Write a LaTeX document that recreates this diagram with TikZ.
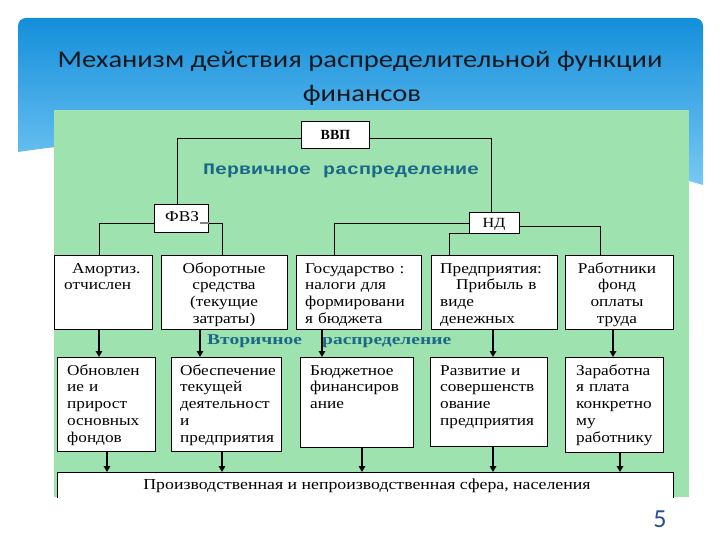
\documentclass[tikz,border=0pt]{standalone}
\usepackage{fontspec}
\setmainfont{Liberation Serif}
\newfontfamily\titlefont[FakeStretch=1.19]{Carlito}
\newfontfamily\numfont{Carlito}
\newfontfamily\boxfont[FakeStretch=1.15]{Liberation Serif}
\newfontfamily\bottomfont[FakeStretch=1.17]{Liberation Serif}
\newfontfamily\wideserif[FakeStretch=1.3]{Liberation Serif}
\newfontfamily\widemono[FakeStretch=1.25]{Liberation Mono}
\usetikzlibrary{arrows.meta}
\definecolor{bgreen}{RGB}{158,226,175}
\definecolor{blueA}{RGB}{20,143,218}
\definecolor{blueB}{RGB}{120,200,244}
\definecolor{tealtxt}{RGB}{28,104,136}
\definecolor{numblue}{RGB}{38,78,148}
\definecolor{titlecol}{RGB}{20,24,30}
\hyphenpenalty=10000
\begin{document}
\begin{tikzpicture}[x=1pt,y=-1pt,
  box/.style={draw=black, fill=white, line width=0.9pt, inner sep=0pt, anchor=north west},
  txt/.style={inner sep=0pt, font=\boxfont\fontsize{15}{16.8}\selectfont},
  lft/.style={txt, anchor=base west, text width=130pt, align=left},
  ctr/.style={txt, anchor=base, text width=120pt, align=center},
  conn/.style={line width=0.9pt},
  arr/.style={line width=1.8pt, -{Triangle[length=6pt,width=6.5pt]}},
  lbl/.style={inner sep=0pt, anchor=base}
]
\useasboundingbox (0,0) rectangle (720,540);
\fill[white] (0,0) rectangle (720,540);
% blue header
\shade[top color=blueA, bottom color=blueB]
  (18,152) {[rounded corners=8pt] -- (18,18) -- (703,18)} -- (703,185)
  .. controls (500,125) and (200,125) .. (18,152) -- cycle;
% title
\node[lbl, font=\titlefont\fontsize{24}{28}\selectfont, text=titlecol] (title1) at (360,68) {Механизм действия распределительной функции};
\node[lbl, font=\titlefont\fontsize{24}{28}\selectfont, text=titlecol] (title2) at (362,102) {финансов};
% green panel
\fill[bgreen] (54,110) rectangle (689,497);

% top boxes
\node[box, minimum width=68pt, minimum height=27pt] (vvp) at (301,121) {};
\node[lbl, font=\bfseries\fontsize{14}{16}\selectfont] (vvpt) at (vvp.center) [yshift=-5pt] {ВВП};
\node[box, minimum width=54pt, minimum height=28pt] (fvz) at (154,204) {};
\node[lbl, font=\boxfont\fontsize{15}{16}\selectfont, anchor=base west] (fvzt) at (165,222) {ФВЗ};
\node[box, minimum width=50pt, minimum height=21pt] (nd) at (469,212) {};
\node[lbl, font=\boxfont\fontsize{14}{16}\selectfont] (ndt) at (494,228) {НД};

\node[lbl, font=\widemono\bfseries\fontsize{16}{18}\selectfont, text=tealtxt, anchor=base west] (perv) at (203,175) {Первичное распределение};

% row 1
\node[box, minimum width=98pt, minimum height=74pt] (a1) at (54,255) {};
\node[box, minimum width=126pt, minimum height=74pt] (a2) at (161,255) {};
\node[box, minimum width=125pt, minimum height=74pt] (a3) at (296,255) {};
\node[box, minimum width=126pt, minimum height=74pt] (a4) at (431,255) {};
\node[box, minimum width=108pt, minimum height=74pt] (a5) at (565,255) {};

\node[lft] (a1t) at (64,273) {\hspace*{8pt}Амортиз.\\отчислен};
\node[ctr] (a2t) at (224,273) {Оборотные\\средства\\(текущие\\затраты)};
\node[lft] (a3t) at (305,273) {Государство :\\налоги для\\формировани\\я бюджета};
\node[lft] (a4t) at (440,273) {Предприятия:\\\hspace*{16pt}Прибыль в\\виде\\денежных};
\node[ctr] (a5t) at (617,273) {Работники\\фонд\\оплаты\\труда};

% secondary label
\node[lbl, font=\wideserif\bfseries\fontsize{15}{17}\selectfont, text=tealtxt, anchor=base west] (vt1) at (207,344) {Вторичное};
\node[lbl, font=\wideserif\bfseries\fontsize{15}{17}\selectfont, text=tealtxt, anchor=base west] (vt2) at (322,344) {распределение};

% row 2
\node[box, minimum width=98pt, minimum height=94pt] (b1) at (57,357) {};
\node[box, minimum width=110pt, minimum height=94pt] (b2) at (171,357) {};
\node[box, minimum width=113pt, minimum height=90pt] (b3) at (300,357) {};
\node[box, minimum width=117pt, minimum height=89pt] (b4) at (430,357) {};
\node[box, minimum width=98pt, minimum height=95pt] (b5) at (565,357) {};

\node[lft] (b1t) at (67,375) {Обновлен\\ие и\\прирост\\основных\\фондов};
\node[lft] (b2t) at (180,375) {Обеспечение\\текущей\\деятельност\\и\\предприятия};
\node[lft] (b3t) at (310,375) {Бюджетное\\финансиров\\ание};
\node[lft] (b4t) at (440,375) {Развитие и\\совершенств\\ование\\предприятия};
\node[lft] (b5t) at (576,375) {Заработна\\я плата\\конкретно\\му\\работнику};

% bottom box (clipped)
\begin{scope}
\clip (0,0) rectangle (720,497);
\node[box, minimum width=616pt, minimum height=45pt] (bot) at (57,472) {};
\end{scope}
\node[lbl, font=\bottomfont\fontsize{15.2}{16}\selectfont] (bott) at (367,489) {Производственная и непроизводственная сфера, населения};

% helper coordinates
\coordinate (k1) at (177,138);
\coordinate (k2) at (491,138);
\coordinate (k3) at (99,223);
\coordinate (k4) at (222,223);
\coordinate (k5) at (334,223);
\coordinate (k6) at (449,233);
\coordinate (k7) at (600,226);
\coordinate (g1) at (200,223);
\coordinate (cA) at (99,0);
\coordinate (cB) at (200,0);
\coordinate (cC) at (322,0);
\coordinate (cD) at (493,0);
\coordinate (cE) at (613,0);
\coordinate (dA) at (107,0);
\coordinate (dB) at (222,0);
\coordinate (dC) at (362,0);
\coordinate (dD) at (493,0);
\coordinate (dE) at (620,0);

% connectors
\draw[conn] (vvp.west |- k1) -| (fvz.north -| k1);
\draw[conn] (vvp.east |- k2) -| (nd.north -| k2);
\draw[conn] (fvz.west |- k3) -| (a1.north -| k3);
\draw[gray, line width=1.3pt] (g1) -- (fvz.east |- g1);
\draw[conn] (fvz.east |- k4) -| (a2.north -| k4);
\draw[conn] (nd.west |- k5) -| (a3.north -| k5);
\draw[conn] (nd.south west) -| (a4.north -| k6);
\draw[conn] (nd.east |- k7) -| (a5.north -| k7);

\draw[arr] (a1.south -| cA) -- (b1.north -| cA);
\draw[arr] (a2.south -| cB) -- (b2.north -| cB);
\draw[arr] (a3.south -| cC) -- (b3.north -| cC);
\draw[arr] (a4.south -| cD) -- (b4.north -| cD);
\draw[arr] (a5.south -| cE) -- (b5.north -| cE);

\draw[arr] (b1.south -| dA) -- (bot.north -| dA);
\draw[arr] (b2.south -| dB) -- (bot.north -| dB);
\draw[arr] (b3.south -| dC) -- (bot.north -| dC);
\draw[arr] (b4.south -| dD) -- (bot.north -| dD);
\draw[arr] (b5.south -| dE) -- (bot.north -| dE);

% page number
\node[lbl, font=\numfont\fontsize{26}{28}\selectfont, text=numblue] (pnum) at (660,527) {5};
\end{tikzpicture}
\end{document}
